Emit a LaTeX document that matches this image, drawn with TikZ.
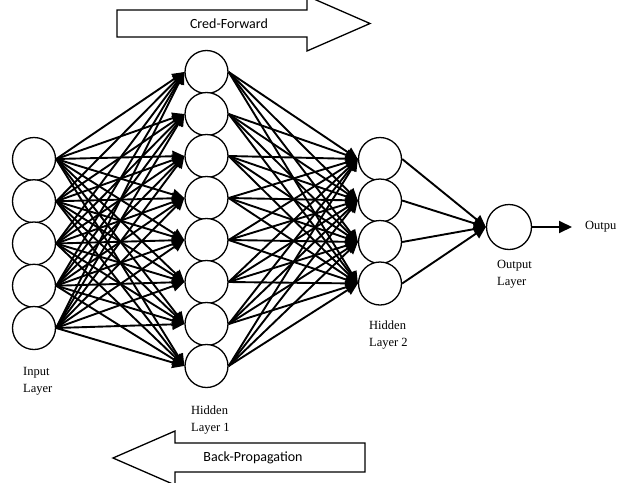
\documentclass[tikz,border=0pt]{standalone}
\usepackage{fontspec}
\setmainfont{Liberation Serif}
\newfontfamily\calib{Carlito}
\usetikzlibrary{arrows.meta}
\begin{document}
\begin{tikzpicture}[x=1pt,y=-1pt,
  neuron/.style={circle,draw,line width=1.3pt,minimum size=43pt,inner sep=0pt,fill=white},
  conn/.style={line width=1.9pt,-{Triangle[length=12pt,width=11pt]}},
  lbl/.style={anchor=west,align=left,inner sep=0pt,font=\fontsize{12.5}{17}\selectfont},
  bigarrow/.style={draw,line width=1.3pt,fill=white}]
\useasboundingbox (0,0) rectangle (618,482);
\clip (0,0) rectangle (618,482);
% big arrows
\draw[bigarrow] (117,10) -- (307,10) -- (307,-4) -- (370,23.5) -- (307,51) -- (307,37) -- (117,37) -- cycle;
\node[inner sep=0pt,font=\calib\fontsize{14}{16}\selectfont] (fwd) at (229,23.5) {Cred-Forward};
\draw[bigarrow] (113,458) -- (175,431) -- (175,443) -- (365,443) -- (365,472) -- (175,472) -- (175,485) -- cycle;
\node[inner sep=0pt,font=\calib\fontsize{14}{16}\selectfont] (bwd) at (253,458) {Back-Propagation};
% nodes
\foreach \i in {0,...,4} \node[neuron] (i\i) at (34,159+42.25*\i) {};
\foreach \j in {0,...,7} \node[neuron] (h\j) at (206.5,72+42*\j) {};
\foreach \k in {0,...,3} \node[neuron] (g\k) at (380,159+41.5*\k) {};
\node[neuron,minimum size=45pt] (o) at (509,227) {};
% connectors
\foreach \i in {0,...,4} \foreach \j in {0,...,7} \draw[conn] (i\i.east) -- (h\j.west);
\foreach \j in {0,...,7} \foreach \k in {0,...,3} \draw[conn] (h\j.east) -- (g\k.west);
\foreach \k in {0,...,3} \draw[conn] (g\k.east) -- (o.west);
\coordinate (oend) at (572,227);
\draw[line width=1.9pt,-{Triangle[length=13pt,width=12pt]}] (o.east) -- (oend);
% labels
\node[lbl] (outtxt) at (585,227) {Outpu};
\node[lbl] (inl) at (23,381.5) {Input\\Layer};
\node[lbl] (h1l) at (191,420) {Hidden\\Layer 1};
\node[lbl] (h2l) at (369,335) {Hidden\\Layer 2};
\node[lbl] (ol) at (497,274) {Output\\Layer};
\end{tikzpicture}
\end{document}
